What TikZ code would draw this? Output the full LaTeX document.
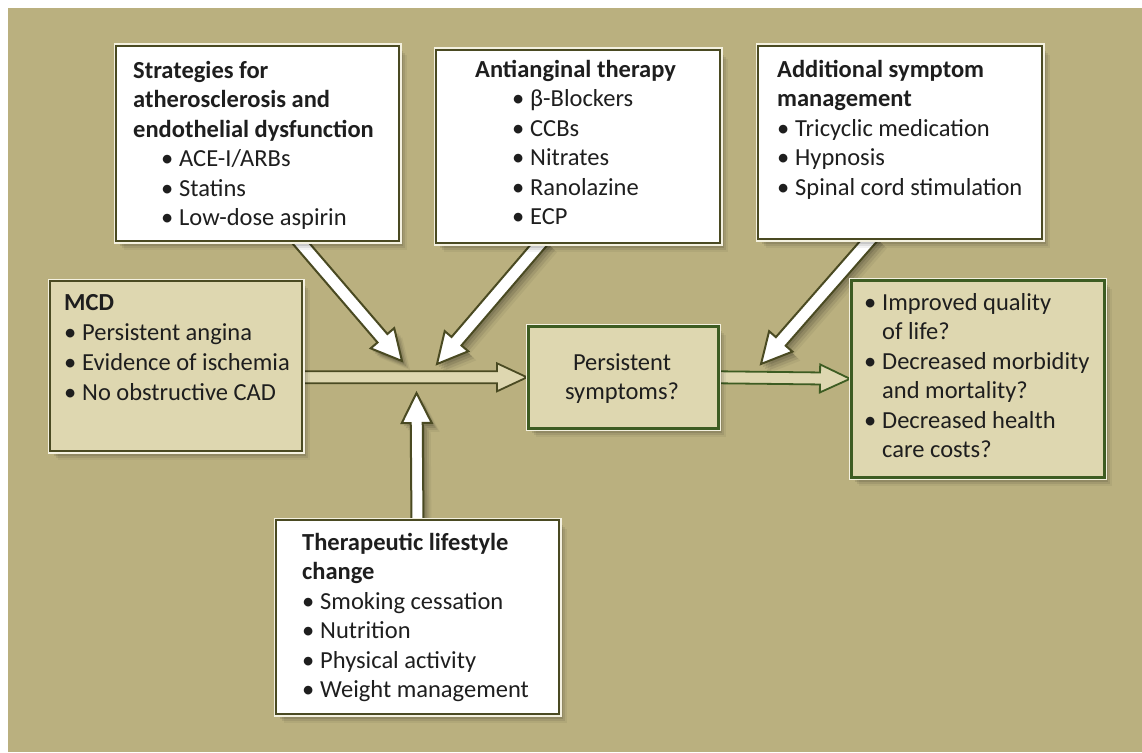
\documentclass[tikz,border=0pt]{standalone}
\usepackage{fontspec}
\setmainfont{Carlito}
\usetikzlibrary{calc}
\definecolor{khakibg}{HTML}{BAB07F}
\definecolor{khlight}{HTML}{DED7B0}
\definecolor{olivedk}{HTML}{4A4A22}
\definecolor{greendk}{HTML}{3D5C22}
\definecolor{cream}{HTML}{F4F1E0}
\definecolor{txtc}{HTML}{1E1E1E}
\pgfdeclarelayer{bgl}
\pgfdeclarelayer{arrl}
\pgfsetlayers{bgl,arrl,main}
\newcommand{\bul}{\makebox[18pt][l]{•}}
\newcommand{\blockarr}[5]{%
  \path[#1] let \p1=(#2), \p2=(#3),
    \n1={atan2(\y2-\y1,\x2-\x1)},
    \n2={veclen(\x2-\x1,\y2-\y1)} in
    [shift={(\p1)}, rotate=\n1]
    (0pt,-#4) -- ({\n2*1pt-30pt},-#4) -- ({\n2*1pt-30pt},-#5) -- ({\n2*1pt},0pt)
    -- ({\n2*1pt-30pt},#5) -- ({\n2*1pt-30pt},#4) -- (0pt,#4) -- cycle;}
\tikzset{
  shad/.style={
    preaction={fill=black, fill opacity=0.11, draw opacity=0, transform canvas={xshift=2pt,yshift=-3pt}},
    preaction={fill=black, fill opacity=0.10, draw opacity=0, transform canvas={xshift=4pt,yshift=-5pt}},
    preaction={fill=black, fill opacity=0.08, draw opacity=0, transform canvas={xshift=6pt,yshift=-7pt}},
    preaction={fill=black, fill opacity=0.05, draw opacity=0, transform canvas={xshift=8pt,yshift=-9pt}}},
  box/.style={rectangle, inner sep=0pt, anchor=north west, line width=2pt, shad,
    preaction={draw=cream, line width=5pt}},
  wbox/.style={box, fill=white, draw=olivedk},
  kbox/.style={box, fill=khlight, draw=olivedk},
  gbox/.style={box, fill=khlight, draw=greendk, line width=2.6pt},
  txt/.style={anchor=base west, inner sep=0pt, align=left,
    font=\fontsize{24.5}{29.5}\selectfont, text=txtc},
  warrow/.style={fill=white, draw=olivedk, line width=2pt, line join=miter, shad},
  karrow/.style={fill=khlight, draw=#1, line width=1.8pt, line join=miter},
}
\begin{document}
\begin{tikzpicture}[x=1pt,y=-1pt]
\useasboundingbox (0,0) rectangle (1142,752);
\begin{pgfonlayer}{bgl}
\fill[fill=khakibg] (8,8) rectangle (1142,752);
\end{pgfonlayer}

% boxes
\node[wbox, minimum width=283pt, minimum height=195pt] (strat) at (115,45) {};
\node[wbox, minimum width=284pt, minimum height=193pt] (anti) at (435,49) {};
\node[wbox, minimum width=284pt, minimum height=193pt] (add) at (757,45) {};
\node[kbox, minimum width=252pt, minimum height=170pt] (mcd) at (49,280) {};
\node[gbox, minimum width=190pt, minimum height=102pt] (ps) at (527,325) {};
\node[gbox, minimum width=253pt, minimum height=197pt] (out) at (850,279) {};
\node[wbox, minimum width=283pt, minimum height=194pt] (ther) at (275,519) {};

% texts (anchored at the baseline of their last line)
\node[txt] (stratT) at (133,225.5) {\textbf{Strategies for}\\ \textbf{atherosclerosis and}\\ \textbf{endothelial dysfunction}\\
  \hspace*{28pt}\bul ACE-I/ARBs\\ \hspace*{28pt}\bul Statins\\ \hspace*{28pt}\bul Low-dose aspirin};
\node[txt] (antiT) at (475,224.5) {\textbf{Antianginal therapy}\\ \hspace*{37pt}\bul β-Blockers\\ \hspace*{37pt}\bul CCBs\\
  \hspace*{37pt}\bul Nitrates\\ \hspace*{37pt}\bul Ranolazine\\ \hspace*{37pt}\bul ECP};
\node[txt] (addT) at (777,195) {\textbf{Additional symptom}\\ \textbf{management}\\ \bul Tricyclic medication\\ \bul Hypnosis\\ \bul Spinal cord stimulation};
\node[txt, font=\fontsize{24.5}{30}\selectfont] (mcdT) at (64,400) {\textbf{MCD}\\ \bul Persistent angina\\ \bul Evidence of ischemia\\ \bul No obstructive CAD};
\node[txt, anchor=base, align=center] (psT) at (622,399.5) {Persistent\\ symptoms?};
\node[txt] (outT) at (864,457.5) {\bul Improved quality\\ \hspace*{18pt}of life?\\ \bul Decreased morbidity\\ \hspace*{18pt}and mortality?\\ \bul Decreased health\\ \hspace*{18pt}care costs?};
\node[txt] (therT) at (302,697.5) {\textbf{Therapeutic lifestyle}\\ \textbf{change}\\ \bul Smoking cessation\\ \bul Nutrition\\ \bul Physical activity\\ \bul Weight management};

% arrow end points
\coordinate (c1) at (402,361);
\coordinate (c2) at (437,364);
\coordinate (c3) at (761,364);
\coordinate (c4) at (416.5,393);

\begin{pgfonlayer}{arrl}
\blockarr{warrow}{[xshift=38pt,yshift=5pt]strat.south}{c1}{6.5pt}{15.5pt}
\blockarr{warrow}{[xshift=-34pt,yshift=5pt]anti.south}{c2}{6.5pt}{15.5pt}
\blockarr{warrow}{[xshift=-26pt,yshift=5pt]add.south}{c3}{6.5pt}{15.5pt}
\blockarr{warrow}{[yshift=-5pt]ther.north}{c4}{6pt}{15pt}
\blockarr{karrow=olivedk}{ps.west -| mcd.east}{ps.west}{6pt}{14pt}
\blockarr{karrow=greendk}{ps.east}{out.west}{6pt}{14pt}
\end{pgfonlayer}
\end{tikzpicture}
\end{document}
